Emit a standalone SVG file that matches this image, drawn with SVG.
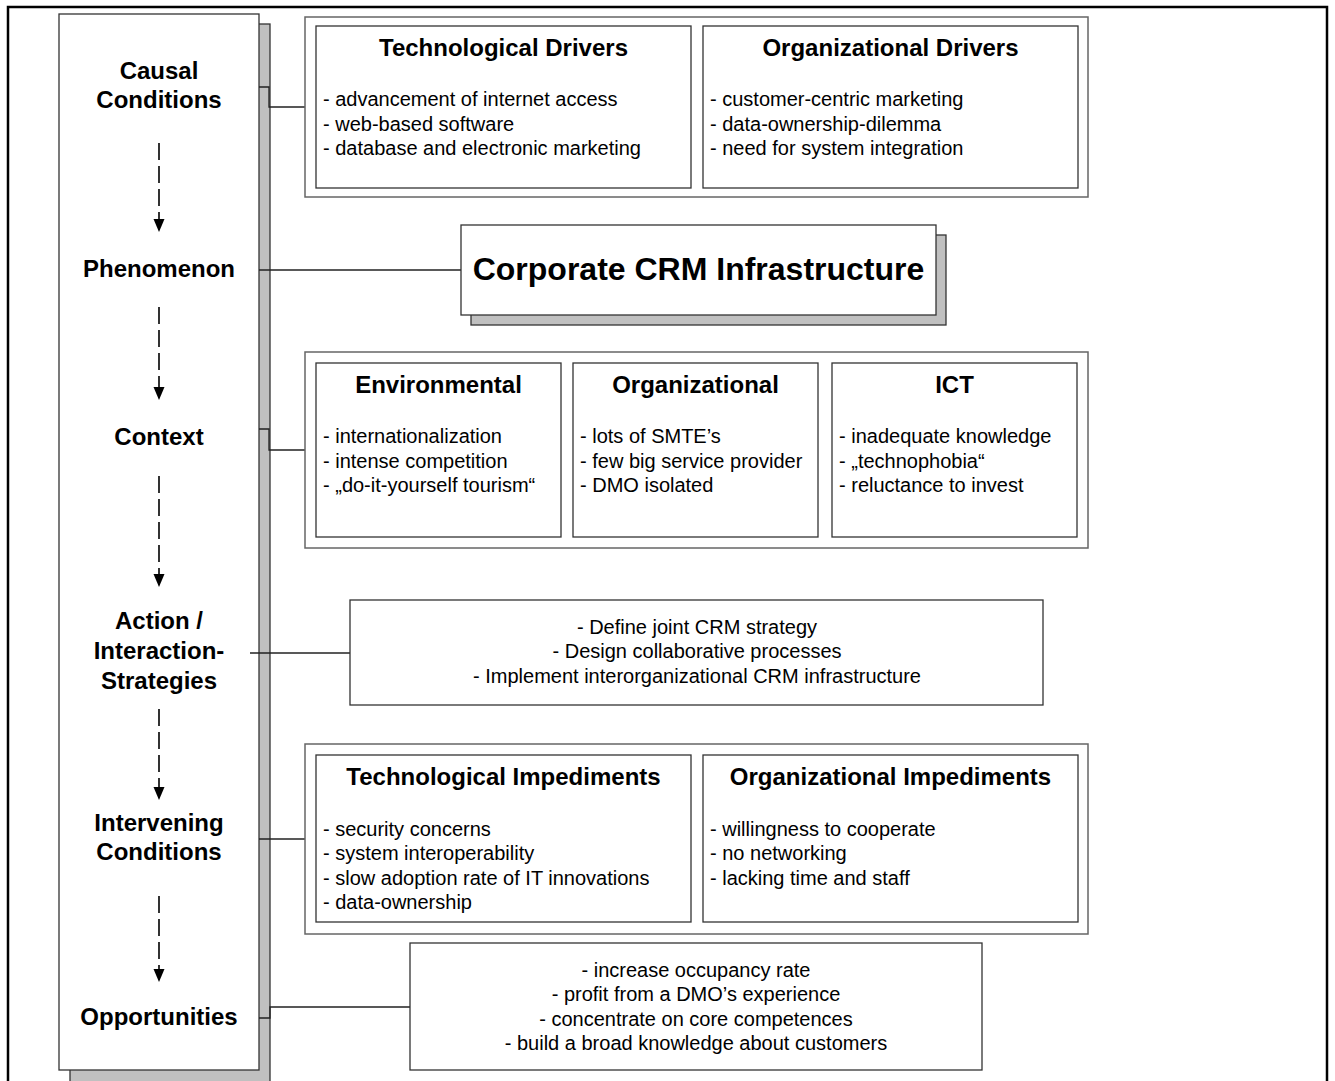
<svg xmlns="http://www.w3.org/2000/svg" width="1335" height="1081" viewBox="0 0 1335 1081">
<style>
text{font-family:"Liberation Sans",Arial,sans-serif;fill:#000}
.lab{font-size:24px;font-weight:bold;text-anchor:middle}
.ttl{font-size:24px;font-weight:bold;text-anchor:middle}
.itm{font-size:20px}
.ctr{font-size:20px;text-anchor:middle}
.big{font-size:32px;font-weight:bold;text-anchor:middle}
.box{fill:#fff;stroke:#333;stroke-width:1.3}
.grp{fill:#fff;stroke:#666;stroke-width:1.5}
.shd{fill:#c0c0c0;stroke:#333;stroke-width:1.3}
.con{fill:none;stroke:#222;stroke-width:1.3}
.flow{fill:none;stroke:#000;stroke-width:1.6;stroke-dasharray:17 6}
.head{fill:#000}
</style>
<rect width="1335" height="1081" fill="#fff"/>
<rect x="8" y="7" width="1319" height="1100" fill="none" stroke="#000" stroke-width="2.5"/>

<g id="stages">
<rect class="shd" x="70" y="24" width="200" height="1080"/>
<rect class="box" x="59" y="14" width="200" height="1056"/>
<text class="lab" x="159" y="79">Causal</text>
<text class="lab" x="159" y="108">Conditions</text>
<text class="lab" x="159" y="277">Phenomenon</text>
<text class="lab" x="159" y="445">Context</text>
<text class="lab" x="159" y="629">Action /</text>
<text class="lab" x="159" y="659">Interaction-</text>
<text class="lab" x="159" y="689">Strategies</text>
<text class="lab" x="159" y="831">Intervening</text>
<text class="lab" x="159" y="860">Conditions</text>
<text class="lab" x="159" y="1025">Opportunities</text>
<g id="flow">
<path class="flow" d="M159,143 V220"/>
<path class="head" d="M153.5,219 L164.5,219 L159,232 Z"/>
<path class="flow" d="M159,307 V388"/>
<path class="head" d="M153.5,387 L164.5,387 L159,400 Z"/>
<path class="flow" d="M159,476 V575"/>
<path class="head" d="M153.5,574 L164.5,574 L159,587 Z"/>
<path class="flow" d="M159,709 V788"/>
<path class="head" d="M153.5,787 L164.5,787 L159,800 Z"/>
<path class="flow" d="M159,896 V970"/>
<path class="head" d="M153.5,969 L164.5,969 L159,982 Z"/>
</g>
</g>

<g id="connectors">
<path class="con" d="M259,87 H269 V107 H305"/>
<path class="con" d="M259,270 H461"/>
<path class="con" d="M259,429 H269 V450 H305"/>
<path class="con" d="M250,653 H350"/>
<path class="con" d="M259,839 H305"/>
<path class="con" d="M259,1018 H270 V1007 H410"/>
</g>

<g id="drivers">
<rect class="grp" x="305" y="17" width="783" height="180"/>
<rect class="box" x="316" y="26" width="375" height="162"/>
<text class="ttl" x="503.5" y="56">Technological Drivers</text>
<text class="itm" x="323" y="106">- advancement of internet access</text>
<text class="itm" x="323" y="131">- web-based software</text>
<text class="itm" x="323" y="155">- database and electronic marketing</text>
<rect class="box" x="703" y="26" width="375" height="162"/>
<text class="ttl" x="890.5" y="56">Organizational Drivers</text>
<text class="itm" x="710" y="106">- customer-centric marketing</text>
<text class="itm" x="710" y="131">- data-ownership-dilemma</text>
<text class="itm" x="710" y="155">- need for system integration</text>
</g>

<g id="phenomenon">
<rect class="shd" x="471" y="235" width="475" height="90"/>
<rect class="box" x="461" y="225" width="475" height="90"/>
<text class="big" x="698.5" y="280">Corporate CRM Infrastructure</text>
</g>

<g id="context">
<rect class="grp" x="305" y="352" width="783" height="196"/>
<rect class="box" x="316" y="363" width="245" height="174"/>
<text class="ttl" x="438.5" y="393">Environmental</text>
<text class="itm" x="323" y="443">- internationalization</text>
<text class="itm" x="323" y="468">- intense competition</text>
<text class="itm" x="323" y="492">- „do-it-yourself tourism“</text>
<rect class="box" x="573" y="363" width="245" height="174"/>
<text class="ttl" x="695.5" y="393">Organizational</text>
<text class="itm" x="580" y="443">- lots of SMTE’s</text>
<text class="itm" x="580" y="468">- few big service provider</text>
<text class="itm" x="580" y="492">- DMO isolated</text>
<rect class="box" x="832" y="363" width="245" height="174"/>
<text class="ttl" x="954.5" y="393">ICT</text>
<text class="itm" x="839" y="443">- inadequate knowledge</text>
<text class="itm" x="839" y="468">- „technophobia“</text>
<text class="itm" x="839" y="492">- reluctance to invest</text>
</g>

<g id="strategies">
<rect class="box" x="350" y="600" width="693" height="105"/>
<text class="ctr" x="697" y="634">- Define joint CRM strategy</text>
<text class="ctr" x="697" y="658">- Design collaborative processes</text>
<text class="ctr" x="697" y="683">- Implement interorganizational CRM infrastructure</text>
</g>

<g id="impediments">
<rect class="grp" x="305" y="744" width="783" height="190"/>
<rect class="box" x="316" y="755" width="375" height="167"/>
<text class="ttl" x="503.5" y="785">Technological Impediments</text>
<text class="itm" x="323" y="836">- security concerns</text>
<text class="itm" x="323" y="860">- system interoperability</text>
<text class="itm" x="323" y="885">- slow adoption rate of IT innovations</text>
<text class="itm" x="323" y="909">- data-ownership</text>
<rect class="box" x="703" y="755" width="375" height="167"/>
<text class="ttl" x="890.5" y="785">Organizational Impediments</text>
<text class="itm" x="710" y="836">- willingness to cooperate</text>
<text class="itm" x="710" y="860">- no networking</text>
<text class="itm" x="710" y="885">- lacking time and staff</text>
</g>

<g id="opportunities">
<rect class="box" x="410" y="943" width="572" height="127"/>
<text class="ctr" x="696" y="977">- increase occupancy rate</text>
<text class="ctr" x="696" y="1001">- profit from a DMO’s experience</text>
<text class="ctr" x="696" y="1026">- concentrate on core competences</text>
<text class="ctr" x="696" y="1050">- build a broad knowledge about customers</text>
</g>
</svg>
